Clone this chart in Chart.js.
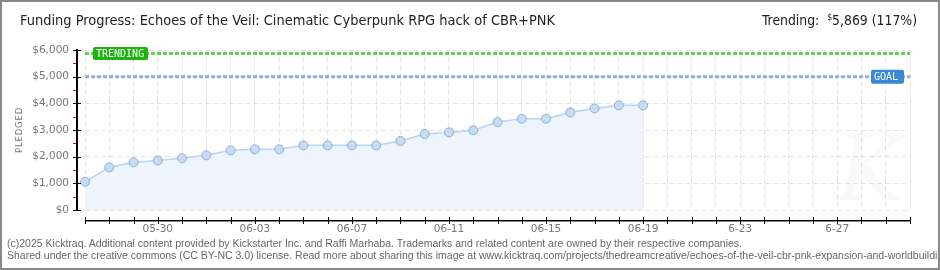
<!DOCTYPE html>
<html>
<head>
<meta charset="utf-8">
<script src="https://cdn.jsdelivr.net/npm/chart.js@4.4.0/dist/chart.umd.min.js"></script>
<style>
  html, body { margin: 0; padding: 0; background: #fff; }
  #page { position: relative; width: 940px; height: 270px; overflow: hidden; }
  #c { position: absolute; left: 0; top: 0; }
  #frame { position: absolute; left: 0; top: 0; width: 940px; height: 270px; box-sizing: border-box; border: 2px solid #888; pointer-events: none; }
  .txt { position: absolute; white-space: nowrap; transform-origin: 0 0; }
  #title { left: 20px; top: 12px; font: 14.5px "DejaVu Sans Condensed", sans-serif; color: #222; }
  #trend { left: 762px; top: 12px; font: 14.5px "DejaVu Sans Condensed", sans-serif; color: #222; }
  #trend sup { font-size: 9px; vertical-align: 5px; }
  #foot { left: 7px; top: 237px; font: 10.5px "Liberation Sans Narrow", sans-serif; color: #666; line-height: 12px; }
</style>
</head>
<body>
<div id="page">
  <canvas id="c" width="940" height="270"></canvas>
  <div class="txt" id="title">Funding Progress: Echoes of the Veil: Cinematic Cyberpunk RPG hack of CBR+PNK</div>
  <div class="txt" id="trend">Trending:&nbsp; <sup>$</sup>5,869 (117%)</div>
  <div class="txt" id="foot"><div id="f1">(c)2025 Kicktraq. Additional content provided by Kickstarter Inc. and Raffi Marhaba. Trademarks and related content are owned by their respective companies.</div><div id="f2">Shared under the creative commons (CC BY-NC 3.0) license. Read more about sharing this image at www.kicktraq.com/projects/thedreamcreative/echoes-of-the-veil-cbr-pnk-expansion-and-worldbuilding/</div></div>
  <div id="frame"></div>
</div>
<script>
// ---- data ----
const days = ['05-27','05-28','05-29','05-30','05-31','06-01','06-02','06-03','06-04','06-05',
              '06-06','06-07','06-08','06-09','06-10','06-11','06-12','06-13','06-14','06-15',
              '06-16','06-17','06-18','06-19','06-20','06-21','06-22','06-23','06-24','06-25',
              '06-26','06-27','06-28','06-29','06-30'];
const pledged = [1060,1600,1790,1860,1940,2050,2240,2275,2275,2425,
                 2425,2425,2425,2590,2850,2910,2990,3300,3425,3425,
                 3660,3810,3925,3925];
const xTickLabels = ['05-30','06-03','06-07','06-11','06-15','06-19','6-23','6-27'];
const yTickLabels = ['$0','$1,000','$2,000','$3,000','$4,000','$5,000','$6,000'];
const goal = 5000;
const trending = 5869;
const yMax = 6000;

// ---- text fitting helper ----
function fitWidth(id, target) {
  const el = document.getElementById(id);
  const w = el.getBoundingClientRect().width;
  el.style.transform = 'scaleX(' + (target / w) + ')';
}
fitWidth('title', 535);
fitWidth('trend', 155);
(function(){
  const f1 = document.getElementById('f1');
  const range = document.createRange(); range.selectNodeContents(f1);
  const w = range.getBoundingClientRect().width;
  document.getElementById('foot').style.transform = 'scaleX(' + (735 / w) + ')';
})();

const lastDay = days[days.length - 1];

const axesPlugin = {
  id: 'axesPlugin',
  beforeDatasetsDraw(chart) {
    const { ctx, chartArea: a } = chart;
    ctx.save();
    ctx.fillStyle = 'rgba(0,0,0,0.022)';
    ctx.font = 'italic 90px "DejaVu Serif"';
    ctx.textAlign = 'center';
    ctx.textBaseline = 'alphabetic';
    ctx.fillText('K', a.right - 40, a.bottom - 10);
    ctx.restore();
  },
  afterDraw(chart) {
    const { ctx, chartArea: a, scales: { x, y } } = chart;
    ctx.save();
    ctx.setLineDash([]);
    ctx.globalAlpha = 1;
    // y axis line + ticks
    const ax = Math.round(a.left - 9);
    const yTop = Math.round(y.getPixelForValue(yMax));
    const yBot = Math.round(y.getPixelForValue(0));
    ctx.fillStyle = '#000000';
    ctx.fillRect(ax, yTop - 1, 2, yBot - yTop + 2);
    ctx.strokeStyle = '#000000';
    ctx.lineWidth = 2;
    ctx.beginPath();
    ctx.moveTo(ax + 1, yTop - 1);
    ctx.lineTo(ax + 1, yBot + 1);
    ctx.stroke();
    for (let v = 0; v <= yMax; v += 500) {
      const py = Math.round(y.getPixelForValue(v));
      if (v % 1000 === 0) {
        ctx.fillStyle = '#000000';
        ctx.fillRect(ax - 3, py, 8, 1);
      } else {
        ctx.fillStyle = '#e00000';
        ctx.fillRect(ax - 3, py, 3, 1);
      }
    }
    // x axis line + ticks
    const ay = Math.round(a.bottom + 10);
    ctx.fillStyle = '#000000';
    const x0 = Math.round(x.getPixelForValue(0));
    const x1 = Math.round(x.getPixelForValue(days.length - 1));
    ctx.fillRect(x0, ay, x1 - x0 + 1, 1.5);
    for (let i = 0; i < days.length; i++) {
      const px = Math.round(x.getPixelForValue(i));
      ctx.fillRect(px, ay - 3, 1, 7);
    }
    // y axis title
    ctx.save();
    ctx.translate(20, (a.top + a.bottom) / 2);
    ctx.rotate(-Math.PI / 2);
    ctx.fillStyle = '#777';
    ctx.font = '9.5px "DejaVu Sans Condensed"';
    ctx.letterSpacing = '0.8px';
    ctx.textAlign = 'center';
    ctx.textBaseline = 'middle';
    ctx.fillText('PLEDGED', 0, 0);
    ctx.restore();

    // badges
    function badge(text, color, left, cy, w, h) {
      ctx.fillStyle = color;
      ctx.beginPath();
      ctx.roundRect(left, cy - h / 2, w, h, 2);
      ctx.fill();
      ctx.fillStyle = '#fff';
      ctx.font = '10px "DejaVu Sans Mono"';
      ctx.letterSpacing = '0px';
      ctx.textAlign = 'left';
      ctx.textBaseline = 'middle';
      ctx.fillText(text, left + 3, cy + 0.5);
    }
    badge('TRENDING', '#1cb40f', a.left + 8, y.getPixelForValue(trending), 55, 13);
    badge('GOAL', '#3b86d5', a.right - 39, y.getPixelForValue(goal), 33, 14);
    ctx.restore();
  }
};

new Chart(document.getElementById('c'), {
  type: 'line',
  data: {
    labels: days,
    datasets: [
      {
        label: 'Trending',
        data: [{ x: days[0], y: trending }, { x: lastDay, y: trending }],
        borderColor: '#62d15a',
        borderWidth: 3,
        borderDash: [4, 2],
        pointRadius: 0,
        fill: false,
        clip: false
      },
      {
        label: 'Goal',
        data: [{ x: days[0], y: goal }, { x: lastDay, y: goal }],
        borderColor: '#8db0da',
        borderWidth: 3,
        borderDash: [4, 2],
        pointRadius: 0,
        fill: false,
        clip: false
      },
      {
        label: 'Pledged',
        data: pledged,
        borderColor: '#b7d4f2',
        borderWidth: 1.5,
        backgroundColor: '#edf4fc',
        fill: 'origin',
        tension: 0,
        pointRadius: 4.5,
        pointBackgroundColor: '#c4dcf6',
        pointBorderColor: '#97aecb',
        pointBorderWidth: 1,
        clip: false
      }
    ]
  },
  options: {
    responsive: false,
    animation: false,
    devicePixelRatio: 1,
    layout: { padding: { left: 0, top: 50, right: 30, bottom: 30 } },
    plugins: { legend: { display: false }, tooltip: { enabled: false } },
    scales: {
      x: {
        type: 'category',
        offset: false,
        afterFit: s => { s.height = 30; },
        grid: { color: '#e3e3e3', drawTicks: false, lineWidth: 1 },
        border: { display: false, dash: [5, 3] },
        ticks: {
          autoSkip: false, maxRotation: 0, padding: 13,
          color: '#777', font: { family: 'DejaVu Sans', size: 10.5 },
          callback: (v, i) => ((i - 3) % 4 === 0 && i >= 3) ? (xTickLabels[(i - 3) / 4] || '') : ''
        }
      },
      y: {
        min: 0, max: yMax,
        afterFit: s => { s.width = 85; },
        grid: {
          color: c => (c.tick && c.tick.value % 1000 === 0) ? '#e3e3e3' : 'rgba(0,0,0,0)',
          drawTicks: false, lineWidth: 1
        },
        border: { display: false, dash: [5, 3] },
        ticks: {
          stepSize: 500, autoSkip: false, padding: 16,
          color: '#777', font: { family: 'DejaVu Sans', size: 10.5 },
          callback: v => (v % 1000 === 0) ? yTickLabels[v / 1000] : ''
        }
      }
    }
  },
  plugins: [axesPlugin]
});
</script>
</body>
</html>
